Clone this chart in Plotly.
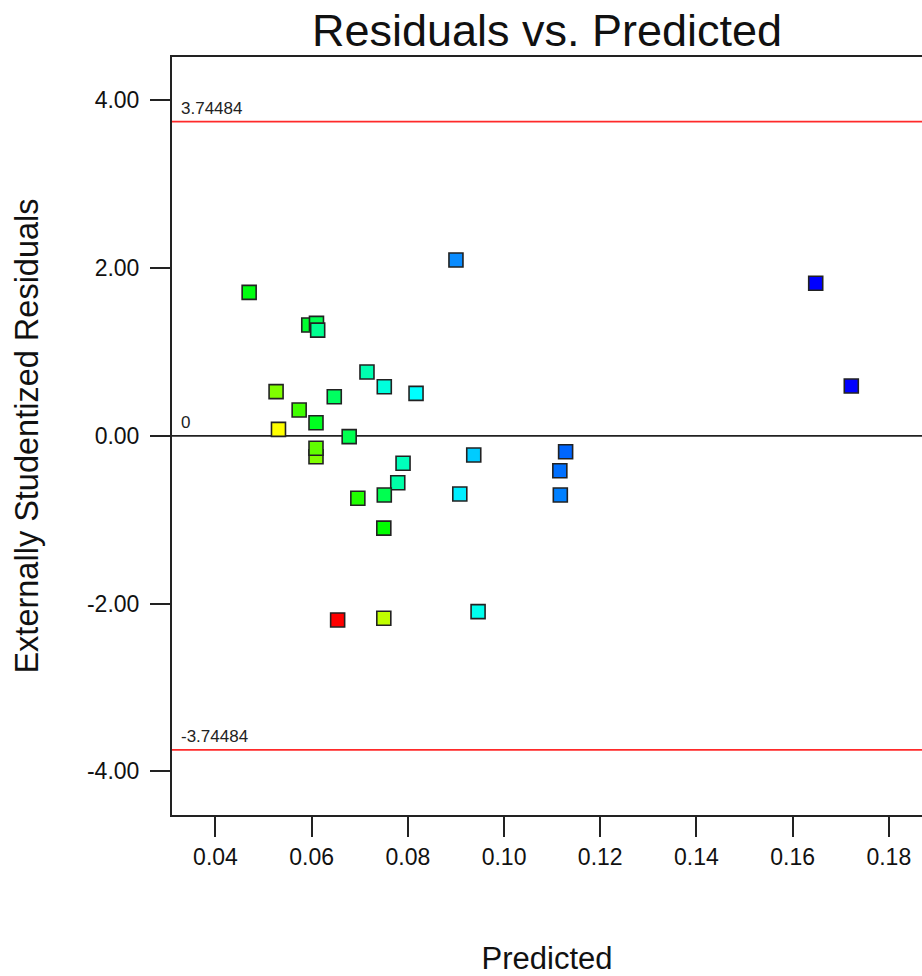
import plotly.graph_objects as go

# ---- data ----
predicted = [0.0900, 0.0470, 0.0594, 0.0610, 0.06125, 0.0715, 0.0751, 0.0817,
             0.0526, 0.0647, 0.0574, 0.0609, 0.0531, 0.0678, 0.0609, 0.0609,
             0.0937, 0.0790, 0.0779, 0.0908, 0.0696, 0.0751, 0.0750, 0.0654,
             0.0750, 0.0946, 0.1128, 0.1116, 0.1117, 0.1648, 0.1722]
residuals = [2.095, 1.71, 1.32, 1.34, 1.26, 0.76, 0.585, 0.506,
             0.526, 0.466, 0.307, 0.156, 0.077, -0.01, -0.249, -0.149,
             -0.229, -0.328, -0.559, -0.694, -0.745, -0.706, -1.10, -2.195,
             -2.175, -2.096, -0.19, -0.416, -0.706, 1.818, 0.594]
point_colors = ["#0a8cff", "#00ff10", "#00ff30", "#00ff50", "#00ff90", "#00ffb0", "#00ffdd", "#00ffff",
                "#80ff00", "#00ff60", "#40ff00", "#00ff20", "#ffff00", "#00ff50", "#80ff00", "#60ff00",
                "#00ccff", "#00ffbb", "#00ffa8", "#00eeff", "#20ff00", "#00ff50", "#00ff00", "#ff0000",
                "#c0ff00", "#00ffee", "#0066ff", "#0070ff", "#0080ff", "#0000ff", "#0000ff"]

limit_value = 3.74484
limit_labels = ["3.74484", "-3.74484"]
x_ticks = [0.04, 0.06, 0.08, 0.10, 0.12, 0.14, 0.16, 0.18]
x_ticktext = ["0.04", "0.06", "0.08", "0.10", "0.12", "0.14", "0.16", "0.18"]
y_ticks = [4, 2, 0, -2, -4]
y_ticktext = ["4.00", "2.00", "0.00", "-2.00", "-4.00"]

X_RANGE = [0.03096, 0.1869]
Y_RANGE = [-4.52, 4.515]

fig = go.Figure()

for yv, col in [(limit_value, "#ff2a2a"), (-limit_value, "#ff2a2a"), (0, "#222222")]:
    fig.add_trace(go.Scatter(x=X_RANGE, y=[yv, yv], mode="lines",
                             line=dict(color=col, width=1.8), hoverinfo="skip",
                             showlegend=False))

fig.add_trace(go.Scatter(
    x=predicted, y=residuals, mode="markers",
    marker=dict(symbol="square", size=14, color=point_colors,
                line=dict(color="#222222", width=1.6)),
    showlegend=False))

font = "Liberation Sans, Arial, sans-serif"
ann = []
for v, t in [(limit_value, limit_labels[0]), (-limit_value, limit_labels[1]), (0, "0")]:
    ann.append(dict(x=0, xref="paper", xanchor="left", xshift=7, y=v, yref="y",
                    yanchor="bottom", yshift=2, text=t, showarrow=False,
                    font=dict(family=font, size=17, color="#222222")))

fig.update_layout(
    width=922, height=976,
    margin=dict(l=172, r=0, t=57, b=161),
    paper_bgcolor="white", plot_bgcolor="white",
    font=dict(family=font, color="#111111"),
    title=dict(text="Residuals vs. Predicted", x=0.5, xref="paper", xanchor="center",
               y=1 - 30 / 976, yref="container", yanchor="middle",
               font=dict(family=font, size=45, color="#111111")),
    annotations=ann,
    xaxis=dict(range=X_RANGE, tickvals=x_ticks, ticktext=x_ticktext,
               showgrid=False, zeroline=False, showline=True, mirror=True, linecolor="#222222",
               linewidth=2, ticks="outside", ticklen=20, tickwidth=1.5, tickcolor="#222222",
               ticklabelstandoff=0, tickfont=dict(size=23),
               title=dict(text="Predicted", font=dict(size=31), standoff=79)),
    yaxis=dict(range=Y_RANGE, tickvals=y_ticks, ticktext=y_ticktext,
               showgrid=False, zeroline=False, showline=True, linecolor="#222222",
               linewidth=2, ticks="outside", ticklen=20, tickwidth=1.5, tickcolor="#222222",
               ticklabelstandoff=6, tickfont=dict(size=23),
               title=dict(text="Externally Studentized Residuals", font=dict(size=32.5), standoff=39)),
)

fig.write_html("out.html", config={"displayModeBar": False},
               post_script="document.body.style.margin='0';document.body.style.overflow='hidden';")
